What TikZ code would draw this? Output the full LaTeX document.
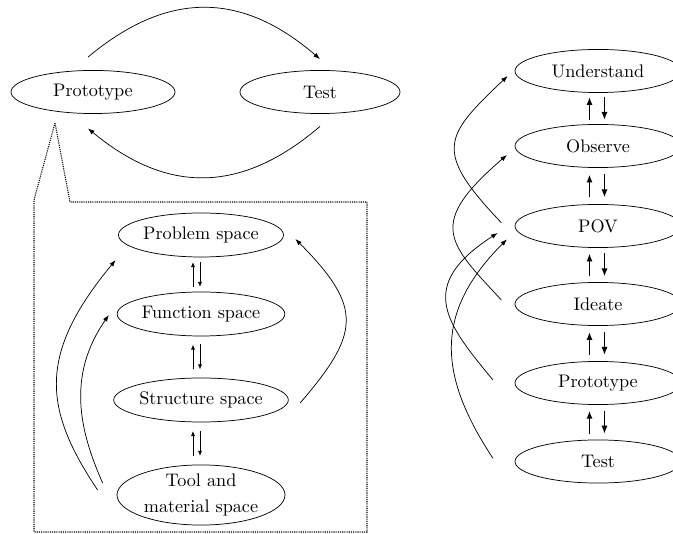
\documentclass[tikz,border=0pt]{standalone}
\usetikzlibrary{shapes.geometric,arrows.meta,calc}
\begin{document}
\begin{tikzpicture}[x=0.55pt,y=-0.55pt,
  oval/.style={draw,ellipse,inner sep=0pt,align=center},
  oneline/.style={oval,minimum width=91.3pt,minimum height=23.7pt},
  space/.style={oval,minimum width=90.75pt,minimum height=24.2pt},
  loop/.style={-{Latex[length=3.6pt,width=2.6pt]}},
  pair/.style={-{Latex[length=2.8pt,width=2.2pt]}},
  bold/.style={line width=0.9pt,-{Latex[length=4.4pt,width=3.4pt]}},
  frame/.style={line width=0.6pt,dash pattern=on 0.6pt off 0.6pt}]
\useasboundingbox (0,0) rectangle (673,534);

% top: prototype / test cycle
\node[oval,minimum width=90.2pt,minimum height=23.7pt] (proto) at (93,92) {Prototype};
\node[oval,minimum width=88pt,minimum height=23.7pt] (test) at (320,92) {Test};
\draw[loop] ($(proto.north)+(-5,-13)$) .. controls (167,-9) and (241,-9) .. ($(test.north)+(0,-11)$);
\draw[loop] ($(test.south)+(0,12.5)$) .. controls (241,194) and (167,194) .. ($(proto.south)+(-5,14.5)$);

% zoom frame opening out of the prototype step
\draw[frame] (55,123) -- (34,200) -- (34,532) -- (367,532) -- (367,202) -- (70,202) -- cycle;

% design spaces
\node[space] (prob) at (201,235) {Problem space};
\node[space] (func) at (201,314) {Function space};
\node[space] (struct) at (201,400) {Structure space};
\node[oval,minimum width=92.4pt,minimum height=31.4pt] (tool) at (201,495) {Tool and\\[2.5pt]material space};

\foreach \a/\b in {prob/func,func/struct,struct/tool}{
  \draw[pair] ($(\a.south)!.5!(\b.north)+(-8,12.5)$) -- ++(0,-25);
  \draw[pair] ($(\a.south)!.5!(\b.north)+(-1,-12.5)$) -- ++(0,25);
}

\draw[loop] ($(tool.west)+(-19,-5)$) .. controls (43.1,408.7) and (37.6,354.3) .. ($(prob.west)+(-2.5,25)$);
\draw[loop] ($(tool.west)+(-14,-12)$) .. controls (79.3,430.3) and (66.8,375.7) .. ($(func.west)+(-8,1)$);
\draw[loop] ($(struct.east)+(11.5,3)$) .. controls (359.3,334) and (364,308) .. ($(prob.east)+(11.5,4)$);

% design thinking steps
\node[oneline] (und) at (598,71) {Understand};
\node[oneline] (obs) at (598,146) {Observe};
\node[oneline] (pov) at (598,226) {POV};
\node[oneline] (idea) at (598,304) {Ideate};
\node[oneline] (proto2) at (598,383) {Prototype};
\node[oneline] (test2) at (598,461.5) {Test};

\foreach \a/\b in {und/obs,obs/pov,pov/idea,idea/proto2,proto2/test2}{
  \draw[bold] ($(\a.south)!.5!(\b.north)+(-8.5,11.5)$) -- ++(0,-23);
  \draw[bold] ($(\a.south)!.5!(\b.north)+(6.5,-11.5)$) -- ++(0,23);
}

\draw[loop] ($(pov.west)+(-13.3,-3.3)$) .. controls (432.7,150.7) and (444,136.4) .. ($(und.west)+(-7,5)$);
\draw[loop] ($(idea.west)+(-13.3,-4)$) .. controls (448.1,242.5) and (426,224.5) .. ($(obs.west)+(-7.7,9)$);
\draw[loop] ($(proto2.west)+(-21.7,-3)$) .. controls (446,323) and (415.7,285.9) .. ($(pov.west)+(-17,7)$);
\draw[loop] ($(test2.west)+(-21.7,-3.2)$) .. controls (437.9,374.7) and (433.9,312.7) .. ($(pov.west)+(-7.7,13.3)$);
\end{tikzpicture}
\end{document}
